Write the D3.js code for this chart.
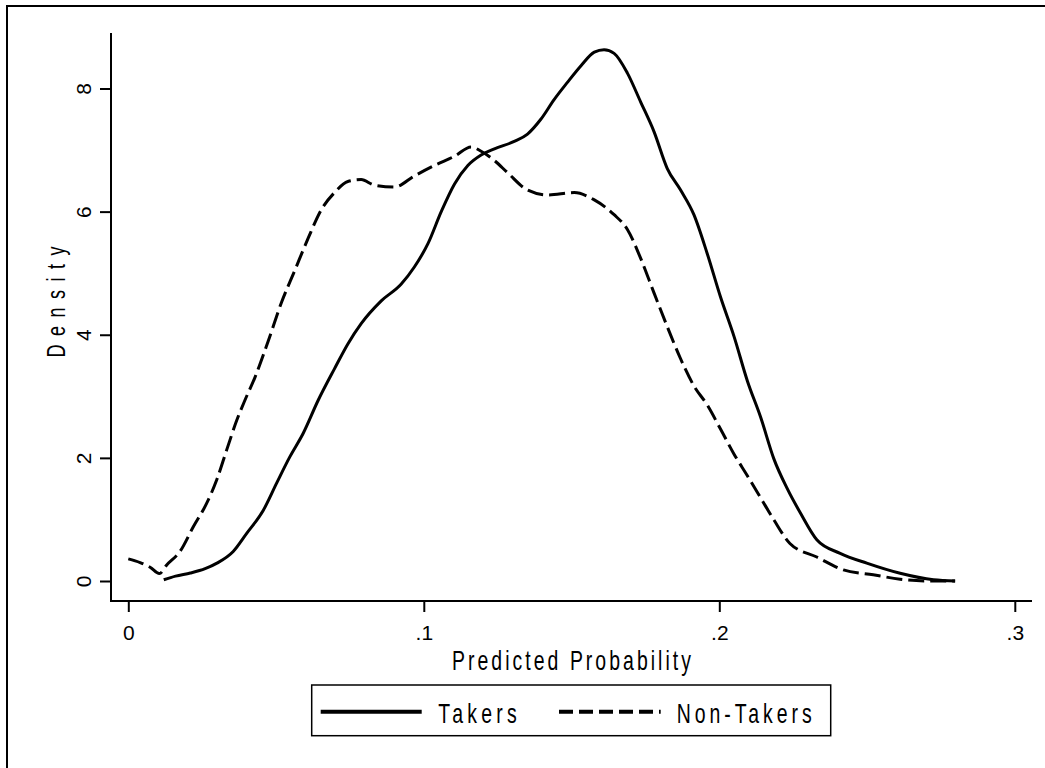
<!DOCTYPE html>
<html>
<head>
<meta charset="utf-8">
<script src="https://cdn.jsdelivr.net/npm/d3@7.9.0/dist/d3.min.js"></script>
<style>
  body { margin: 0; background: #fff; }
  svg { display: block; }
  text { font-family: "Liberation Sans", Arial, sans-serif; fill: #000; }
</style>
</head>
<body>
<svg id="chart" width="1045" height="768"></svg>
<script>
// kernel density estimates
const takersX = [0.012, 0.016, 0.021, 0.026, 0.030, 0.0355, 0.040, 0.0457, 0.0502, 0.0547,
  0.0592, 0.0643, 0.0698, 0.0743, 0.0788, 0.0856, 0.0923, 0.0968, 0.1014, 0.1059,
  0.1104, 0.1149, 0.1194, 0.1239, 0.1306, 0.1351, 0.1396, 0.1441, 0.1486, 0.1532,
  0.1577, 0.161, 0.1644, 0.1689, 0.1734, 0.1779, 0.1824, 0.1869, 0.1914, 0.1959,
  0.2005, 0.205, 0.2095, 0.214, 0.2185, 0.223, 0.2275, 0.233, 0.2409, 0.2499,
  0.2612, 0.2725, 0.2798];
const takersY = [0.02, 0.08, 0.13, 0.2, 0.29, 0.48, 0.77, 1.15, 1.59, 2.02,
  2.40, 2.94, 3.45, 3.85, 4.18, 4.55, 4.82, 5.1, 5.48, 6.0,
  6.45, 6.75, 6.92, 7.02, 7.14, 7.26, 7.5, 7.82, 8.1, 8.37,
  8.59, 8.63, 8.57, 8.25, 7.78, 7.3, 6.7, 6.35, 5.95, 5.32,
  4.6, 3.97, 3.25, 2.66, 1.98, 1.5, 1.1, 0.67, 0.45, 0.29,
  0.125, 0.02, 0.0];

const nonTakersX = [0.000, 0.004, 0.0075, 0.0105, 0.013, 0.0175, 0.022, 0.0265, 0.0299, 0.0333,
  0.0367, 0.0395, 0.0428, 0.0473, 0.0518, 0.0563, 0.0608, 0.0653, 0.0698, 0.0743,
  0.0788, 0.0833, 0.0901, 0.0968, 0.1036, 0.1104, 0.116, 0.1194, 0.1239, 0.1284,
  0.1351, 0.1419, 0.1509, 0.1577, 0.1644, 0.1689, 0.1734, 0.1779, 0.1824, 0.1869,
  0.1914, 0.1959, 0.2005, 0.205, 0.2095, 0.214, 0.2185, 0.2239, 0.233, 0.242,
  0.2521, 0.2612, 0.2713, 0.2798];
const nonTakersY = [0.36, 0.30, 0.22, 0.12, 0.26, 0.48, 0.88, 1.26, 1.64, 2.13,
  2.61, 2.94, 3.3, 3.89, 4.52, 5.04, 5.56, 6.03, 6.31, 6.49,
  6.52, 6.43, 6.4, 6.58, 6.75, 6.9, 7.05, 6.98, 6.83, 6.63,
  6.35, 6.27, 6.31, 6.19, 5.95, 5.71, 5.24, 4.68, 4.13, 3.61,
  3.17, 2.86, 2.46, 2.06, 1.71, 1.35, 0.99, 0.61, 0.39, 0.18,
  0.10, 0.03, 0.0, 0.0];

const xTicks = [0, 0.1, 0.2, 0.3];
const xTickLabels = ['0', '.1', '.2', '.3'];
const yTicks = [0, 2, 4, 6, 8];
const seriesNames = ['Takers', 'Non-Takers'];

const svg = d3.select('#chart');
const x = d3.scaleLinear().domain([0, 0.3]).range([128.3, 1014.8]);
const y = d3.scaleLinear().domain([0, 8]).range([581, 88.5]);

// stata-like text: narrow glyphs, wide letter spacing
function spacedText(parent, str, o) {
  const g = parent.append('g')
    .attr('transform', `translate(${o.x},${o.y}) rotate(${o.rotate || 0}) scale(${o.squeeze},1)`);
  g.append('text')
    .attr('text-anchor', o.anchor)
    .attr('font-size', o.size)
    .attr('textLength', o.width / o.squeeze)
    .attr('lengthAdjust', 'spacing')
    .text(str);
}

// outer frame (only top and left edges land inside the picture)
svg.append('rect')
  .attr('x', 7).attr('y', 6)
  .attr('width', 1100).attr('height', 900)
  .attr('fill', 'none').attr('stroke', '#000').attr('stroke-width', 2);

// axis lines run a bit past the tick range
svg.append('line')
  .attr('x1', 110).attr('x2', 1032).attr('y1', 601).attr('y2', 601)
  .attr('stroke', '#000').attr('stroke-width', 2);
svg.append('line')
  .attr('x1', 111).attr('x2', 111).attr('y1', 33).attr('y2', 602)
  .attr('stroke', '#000').attr('stroke-width', 2);

const xAxis = svg.append('g')
  .attr('transform', 'translate(0,601)')
  .call(d3.axisBottom(x).tickValues(xTicks)
    .tickFormat((d, i) => xTickLabels[i])
    .tickSize(11).tickPadding(13));
xAxis.select('.domain').remove();
xAxis.selectAll('line').attr('stroke-width', 2);
xAxis.selectAll('text').attr('font-size', 21).attr('font-family', null);

const yAxis = svg.append('g')
  .attr('transform', 'translate(111,0)')
  .call(d3.axisLeft(y).tickValues(yTicks).tickSize(11));
yAxis.select('.domain').remove();
yAxis.selectAll('line').attr('stroke-width', 2);
yAxis.selectAll('text')
  .attr('font-size', 21).attr('font-family', null)
  .attr('transform', 'rotate(-90)')
  .attr('x', 0).attr('y', -20).attr('dy', 0)
  .attr('text-anchor', 'middle');

// axis titles
spacedText(svg, 'Predicted Probability',
  { x: 571.5, y: 670, anchor: 'middle', size: 27, width: 239, squeeze: 0.72 });
spacedText(svg, 'Density',
  { x: 65, y: 302, rotate: -90, anchor: 'middle', size: 25, width: 111, squeeze: 0.72 });

// curves
const line = d3.line()
  .x(d => x(d[0]))
  .y(d => y(d[1]))
  .curve(d3.curveMonotoneX);

const takers = d3.zip(takersX, takersY);
const nonTakers = d3.zip(nonTakersX, nonTakersY);

svg.append('path')
  .attr('d', line(nonTakers))
  .attr('fill', 'none').attr('stroke', '#000')
  .attr('stroke-width', 3).attr('stroke-dasharray', '16,6');

svg.append('path')
  .attr('d', line(takers))
  .attr('fill', 'none').attr('stroke', '#000')
  .attr('stroke-width', 3);

// legend
svg.append('rect')
  .attr('x', 311.7).attr('y', 685)
  .attr('width', 519).attr('height', 50.7)
  .attr('fill', 'none').attr('stroke', '#000').attr('stroke-width', 1.5);

const legendItems = [
  { name: seriesNames[0], x1: 320.7, x2: 421.7, tx: 438.3, tw: 78.4, dash: null },
  { name: seriesNames[1], x1: 559, x2: 660.7, tx: 676.7, tw: 135, dash: '14,6' }
];

legendItems.forEach(d => {
  svg.append('line')
    .attr('x1', d.x1).attr('x2', d.x2).attr('y1', 711.7).attr('y2', 711.7)
    .attr('stroke', '#000').attr('stroke-width', 4)
    .attr('stroke-dasharray', d.dash);
  spacedText(svg, d.name,
    { x: d.tx, y: 722.7, anchor: 'start', size: 27, width: d.tw, squeeze: 0.72 });
});
</script>
</body>
</html>
